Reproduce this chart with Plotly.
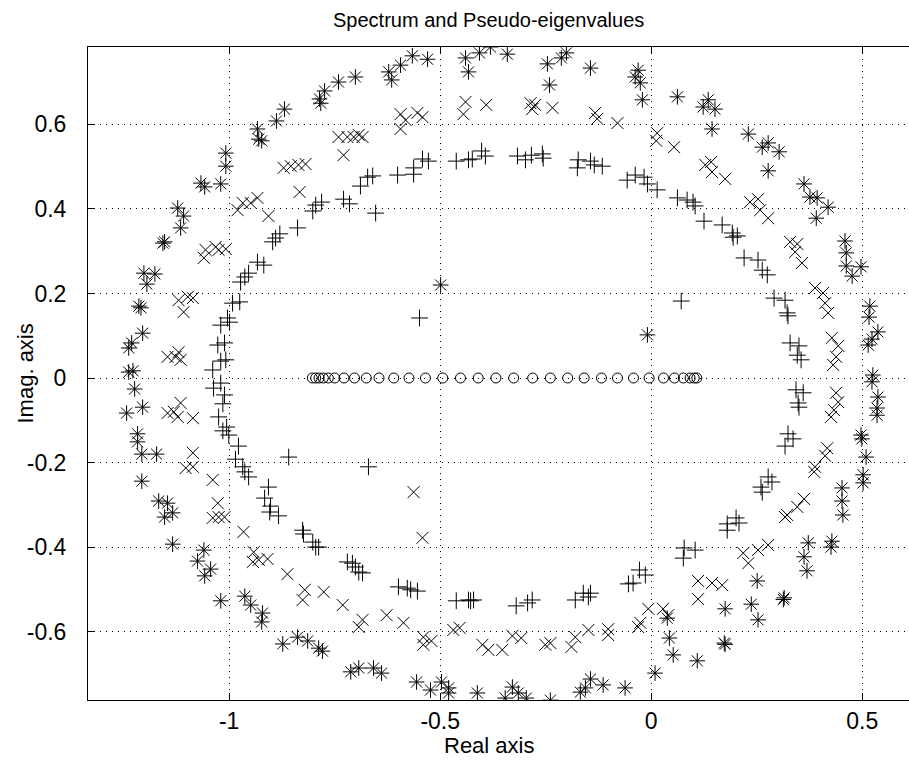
import plotly.graph_objects as go

# Eigenvalues (all real)
eig_re = [-0.803, -0.795, -0.787, -0.777, -0.765, -0.750, -0.728, -0.703, -0.675, -0.645,
          -0.610, -0.574, -0.535, -0.494, -0.452, -0.410, -0.368, -0.326, -0.281, -0.239,
          -0.198, -0.159, -0.118, -0.080, -0.042, -0.005, 0.029, 0.055, 0.076, 0.092,
          0.102, 0.108]
eig_im = [0.0] * len(eig_re)

# Pseudo-eigenvalues, largest perturbation ('*')
star_re = [-0.701, -0.622, -0.615, -0.594, -0.566, -0.530, -0.440, -0.433, -0.407, -0.381,
           -0.341, -0.246, -0.241, -0.213, -0.201, -0.144, -0.741, -0.774, -0.786, -0.783,
           -0.869, -0.888, -0.933, -0.930, -0.923, -1.008, -1.008, -1.067, -1.058, -1.020,
           -1.122, -1.108, -1.115, -1.157, -1.153, -1.202, -1.176, -1.195, -1.214, -1.209,
           -1.205, -1.231, -1.238, -1.228, -1.238, -1.224, -1.243, -1.205, -1.217, -1.217,
           -1.207, -1.172, -1.207, -1.167, -1.146, -1.153, -1.134, -1.134, -1.060, -1.075,
           -1.044, -1.058, -1.020, -0.963, -0.949, -0.921, -0.923, -0.873, -0.838, -0.814,
           -0.788, -0.779, -0.712, -0.693, -0.658, -0.639, -0.556, -0.523, -0.497, -0.480,
           -0.480, -0.412, -0.346, -0.329, -0.315, -0.296, -0.239, -0.168, -0.156, -0.144,
           -0.114, -0.062, 0.009, 0.052, 0.043, 0.038, 0.109, 0.173, 0.175, 0.175,
           0.237, 0.253, 0.251, 0.315, 0.313, 0.372, 0.362, 0.369, 0.428, 0.426,
           0.452, 0.452, 0.454, 0.497, 0.499, 0.509, 0.502, 0.502, 0.523, 0.525,
           0.537, 0.535, 0.535, -0.031, -0.038, -0.026, -0.021, 0.062, 0.135, 0.123,
           0.151, 0.144, 0.230, 0.263, 0.277, 0.303, 0.277, 0.362, 0.376, 0.393,
           0.419, 0.391, 0.459, 0.462, 0.462, 0.476, 0.497, 0.518, 0.516, 0.537,
           0.523, 0.514, -0.009, -0.499]
star_im = [0.712, 0.724, 0.705, 0.740, 0.762, 0.754, 0.757, 0.724, 0.769, 0.783,
           0.766, 0.743, 0.693, 0.757, 0.769, 0.733, 0.700, 0.679, 0.660, 0.650,
           0.636, 0.608, 0.589, 0.565, 0.561, 0.532, 0.501, 0.461, 0.452, 0.459,
           0.402, 0.383, 0.355, 0.319, 0.322, 0.248, 0.246, 0.222, 0.170, 0.166,
           0.106, 0.083, 0.071, 0.017, 0.014, -0.026, -0.083, -0.069, -0.132, -0.151,
           -0.180, -0.180, -0.244, -0.291, -0.296, -0.329, -0.319, -0.393, -0.407, -0.433,
           -0.452, -0.468, -0.527, -0.516, -0.537, -0.556, -0.577, -0.629, -0.613, -0.622,
           -0.639, -0.646, -0.695, -0.686, -0.686, -0.698, -0.719, -0.738, -0.719, -0.733,
           -0.745, -0.745, -0.757, -0.731, -0.745, -0.757, -0.762, -0.743, -0.733, -0.712,
           -0.726, -0.733, -0.698, -0.655, -0.615, -0.568, -0.669, -0.627, -0.630, -0.546,
           -0.535, -0.572, -0.480, -0.520, -0.524, -0.390, -0.423, -0.456, -0.386, -0.400,
           -0.260, -0.291, -0.324, -0.135, -0.144, -0.187, -0.229, -0.248, -0.009, 0.007,
           -0.045, -0.071, -0.088, 0.728, 0.712, 0.698, 0.658, 0.665, 0.658, 0.641,
           0.636, 0.589, 0.577, 0.546, 0.556, 0.535, 0.490, 0.459, 0.428, 0.426,
           0.404, 0.378, 0.324, 0.296, 0.265, 0.241, 0.263, 0.170, 0.144, 0.109,
           0.092, 0.078, 0.102, 0.220]

# Pseudo-eigenvalues, medium perturbation ('x')
xm_re = [-0.741, -0.720, -0.705, -0.693, -0.729, -0.871, -0.854, -0.836, -0.819, -0.833,
         -0.980, -0.968, -0.949, -0.933, -0.907, -1.060, -1.056, -1.032, -1.025, -1.008,
         -1.120, -1.108, -1.098, -1.086, -1.146, -1.127, -1.115, -1.120, -1.115, -1.131,
         -1.146, -1.122, -1.086, -1.086, -1.103, -1.086, -1.039, -1.027, -1.039, -1.025,
         -1.011, -0.966, -0.942, -0.944, -0.930, -0.909, -0.862, -0.821, -0.826, -0.776,
         -0.731, -0.693, -0.563, -0.542, -0.684, -0.627, -0.587, -0.540, -0.540, -0.521,
         -0.469, -0.454, -0.400, -0.386, -0.353, -0.329, -0.308, -0.251, -0.239, -0.189,
         -0.180, -0.149, -0.102, -0.102, -0.031, -0.026, -0.007, 0.028, 0.040, 0.111,
         0.144, 0.168, 0.111, 0.218, 0.230, 0.253, 0.277, 0.317, 0.322, 0.346,
         0.362, 0.388, 0.386, 0.412, 0.417, 0.426, 0.433, 0.443, 0.438, 0.014,
         0.012, 0.054, 0.128, 0.142, 0.144, 0.175, 0.234, 0.253, 0.258, 0.277,
         0.329, 0.346, 0.341, 0.357, 0.388, 0.407, 0.412, 0.419, 0.428, 0.443,
         0.438, 0.431, -0.684, -0.594, -0.582, -0.594, -0.554, -0.542, -0.440, -0.445,
         -0.391, -0.286, -0.282, -0.275, -0.234, -0.133, -0.128, -0.080]
xm_im = [0.570, 0.570, 0.570, 0.575, 0.527, 0.497, 0.501, 0.504, 0.506, 0.440,
         0.397, 0.414, 0.414, 0.426, 0.383, 0.284, 0.303, 0.310, 0.303, 0.305,
         0.184, 0.156, 0.192, 0.189, 0.050, 0.050, 0.043, 0.061, -0.059, -0.080,
         -0.083, -0.092, -0.095, -0.177, -0.213, -0.210, -0.241, -0.296, -0.331, -0.329,
         -0.329, -0.364, -0.412, -0.435, -0.430, -0.428, -0.464, -0.501, -0.525, -0.506,
         -0.537, -0.589, -0.270, -0.378, -0.572, -0.561, -0.579, -0.613, -0.631, -0.622,
         -0.596, -0.591, -0.631, -0.643, -0.643, -0.610, -0.615, -0.631, -0.627, -0.636,
         -0.613, -0.596, -0.594, -0.608, -0.589, -0.579, -0.546, -0.546, -0.561, -0.480,
         -0.485, -0.490, -0.523, -0.414, -0.438, -0.407, -0.395, -0.329, -0.324, -0.305,
         -0.286, -0.210, -0.222, -0.184, -0.166, -0.092, -0.076, -0.057, -0.035, 0.579,
         0.561, 0.546, 0.504, 0.511, 0.487, 0.471, 0.416, 0.423, 0.397, 0.378,
         0.322, 0.317, 0.298, 0.272, 0.213, 0.201, 0.177, 0.154, 0.095, 0.076,
         0.050, 0.031, 0.570, 0.624, 0.610, 0.589, 0.627, 0.617, 0.653, 0.624,
         0.646, 0.650, 0.636, 0.646, 0.639, 0.627, 0.613, 0.603]

# Pseudo-eigenvalues, smallest perturbation ('+')
plus_re = [-0.689, -0.672, -0.660, -0.601, -0.563, -0.563, -0.542, -0.528, -0.462, -0.433,
           -0.424, -0.402, -0.393, -0.317, -0.298, -0.284, -0.258, -0.256, -0.173, -0.175,
           -0.144, -0.135, -0.116, -0.057, -0.653, -0.549, -0.802, -0.795, -0.781, -0.729,
           -0.715, -0.838, -0.897, -0.890, -0.880, -0.933, -0.918, -0.973, -0.963, -0.954,
           -0.992, -0.975, -1.020, -1.004, -0.999, -1.027, -1.011, -1.020, -1.008, -1.039,
           -1.020, -1.037, -1.011, -1.015, -1.025, -1.006, -1.015, -1.001, -0.978, -0.985,
           -0.968, -0.963, -0.954, -0.907, -0.916, -0.902, -0.904, -0.883, -0.826, -0.824,
           -0.802, -0.795, -0.788, -0.720, -0.708, -0.701, -0.693, -0.859, -0.684, -0.670,
           -0.599, -0.578, -0.570, -0.554, -0.462, -0.433, -0.428, -0.421, -0.320, -0.293,
           -0.282, -0.180, -0.161, -0.144, -0.149, -0.054, -0.043, -0.028, -0.014, 0.078,
           0.076, 0.104, 0.180, 0.180, 0.201, 0.208, 0.260, 0.263, 0.277, 0.286,
           0.324, 0.317, 0.336, 0.343, 0.360, 0.348, 0.350, -0.038, -0.017, -0.009,
           0.014, 0.062, 0.085, 0.099, 0.104, 0.125, 0.168, 0.192, 0.194, 0.204,
           0.220, 0.253, 0.263, 0.275, 0.071, 0.291, 0.317, 0.322, 0.324, 0.329,
           0.350, 0.346, 0.355]
plus_im = [0.454, 0.475, 0.478, 0.480, 0.497, 0.482, 0.518, 0.513, 0.513, 0.516,
           0.518, 0.537, 0.525, 0.525, 0.516, 0.527, 0.530, 0.520, 0.516, 0.497,
           0.513, 0.504, 0.501, 0.468, 0.390, 0.142, 0.395, 0.409, 0.416, 0.423,
           0.412, 0.355, 0.322, 0.331, 0.341, 0.274, 0.267, 0.227, 0.239, 0.248,
           0.177, 0.180, 0.125, 0.142, 0.132, 0.078, 0.083, 0.040, 0.043, 0.019,
           -0.012, -0.024, -0.040, -0.061, -0.092, -0.116, -0.125, -0.135, -0.161, -0.192,
           -0.210, -0.222, -0.234, -0.258, -0.284, -0.303, -0.317, -0.326, -0.360, -0.369,
           -0.388, -0.400, -0.400, -0.435, -0.438, -0.447, -0.459, -0.187, -0.461, -0.210,
           -0.494, -0.497, -0.501, -0.504, -0.527, -0.525, -0.527, -0.525, -0.539, -0.532,
           -0.525, -0.525, -0.509, -0.509, -0.518, -0.487, -0.485, -0.454, -0.466, -0.402,
           -0.426, -0.407, -0.345, -0.360, -0.331, -0.343, -0.258, -0.270, -0.234, -0.246,
           -0.132, -0.161, -0.144, -0.028, -0.035, -0.059, -0.069, 0.480, 0.475, 0.459,
           0.445, 0.426, 0.421, 0.416, 0.407, 0.371, 0.362, 0.343, 0.333, 0.336,
           0.284, 0.279, 0.255, 0.244, 0.182, 0.189, 0.184, 0.154, 0.147, 0.083,
           0.076, 0.054, 0.043]

x_ticks = [-1, -0.5, 0, 0.5]
x_tick_labels = ["-1", "-0.5", "0", "0.5"]
y_ticks = [-0.6, -0.4, -0.2, 0, 0.2, 0.4, 0.6]
y_tick_labels = ["-0.6", "-0.4", "-0.2", "0", "0.2", "0.4", "0.6"]

FONT = "Liberation Sans, Arial, Helvetica, sans-serif"
fig = go.Figure()

def add(xs, ys, symbol, size):
    fig.add_trace(go.Scatter(
        x=xs, y=ys, mode="markers",
        marker=dict(symbol=symbol, size=size, color="black",
                    line=dict(color="black", width=1)),
        showlegend=False, hoverinfo="skip"))

add(plus_re, plus_im, "cross-thin-open", 12)
add(xm_re, xm_im, "x-thin-open", 12)
add(star_re, star_im, "asterisk-open", 13)
add(eig_re, eig_im, "circle-open", 10)

axis_common = dict(
    showgrid=True, gridcolor="black", gridwidth=1, griddash="1px,5px",
    zeroline=False, showline=True, linecolor="black", linewidth=1,
    ticks="inside", ticklen=7, tickcolor="black", tickwidth=1,
    tickfont=dict(family=FONT, size=23, color="black"),
)

fig.update_layout(
    width=909, height=760,
    margin=dict(l=88, r=0, t=47, b=60),
    paper_bgcolor="white", plot_bgcolor="white",
    xaxis=dict(range=[-1.3345, 0.6107], tickvals=x_ticks, ticktext=x_tick_labels,
               mirror="ticks", ticklabelstandoff=0, **axis_common),
    yaxis=dict(range=[-0.7616, 0.7829], tickvals=y_ticks, ticktext=y_tick_labels,
               mirror=False, ticklabelstandoff=16, **axis_common),
    annotations=[
        dict(text="Spectrum and Pseudo-eigenvalues", xref="paper", yref="paper",
             x=(488 - 88) / 821, y=1, yshift=27, xanchor="center", yanchor="middle",
             showarrow=False, font=dict(family=FONT, size=20, color="black")),
        dict(text="Real axis", xref="paper", yref="paper",
             x=(489 - 88) / 821, y=0, yshift=-45, xanchor="center", yanchor="middle",
             showarrow=False, font=dict(family=FONT, size=22, color="black")),
        dict(text="Imag. axis", xref="paper", yref="paper",
             x=0, xshift=-63, y=0.5, xanchor="center", yanchor="middle",
             showarrow=False, textangle=-90,
             font=dict(family=FONT, size=22, color="black")),
    ],
)

fig.write_html("out.html")
